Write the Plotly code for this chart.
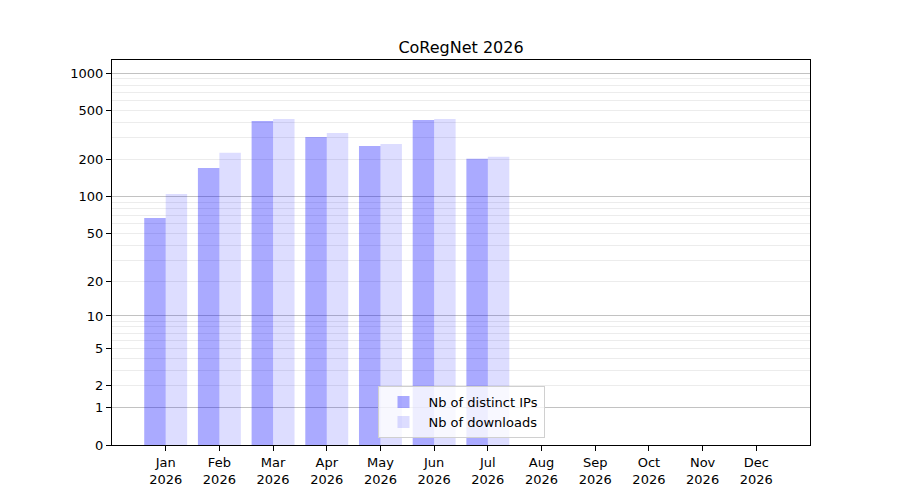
import numpy as np
import plotly.graph_objects as go

months = ["Jan", "Feb", "Mar", "Apr", "May", "Jun", "Jul", "Aug", "Sep", "Oct", "Nov", "Dec"]
year = "2026"
distinct_ips = [67, 171, 411, 305, 258, 419, 203]
downloads = [105, 227, 427, 329, 268, 427, 211]

y_labels = [0, 1, 2, 5, 10, 20, 50, 100, 200, 500, 1000]
major_grid = [1, 10, 100, 1000]
minor_grid = [m * d for d in (1, 10, 100) for m in range(2, 10)]

# axis is log10(1 + n), so everything gets shifted by one
x_lab = [f"{m}<br>{year}" for m in months]
x_pos = list(range(len(months)))
top = 10 ** 3.107

fig = go.Figure()
fig.add_trace(go.Bar(x=x_pos[:len(distinct_ips)], y=np.array(distinct_ips) + 1,
                     name="Nb of distinct IPs", marker_color="rgba(0,0,255,0.333)",
                     marker_line_width=0))
fig.add_trace(go.Bar(x=x_pos[:len(downloads)], y=np.array(downloads) + 1,
                     name="Nb of downloads", marker_color="rgba(0,0,255,0.135)",
                     marker_line_width=0))
# dummy trace so the overlay axis (dark grid) gets drawn
fig.add_trace(go.Scatter(x=[None], y=[None], yaxis="y2", showlegend=False,
                         hoverinfo="skip"))

# page body has an 8px margin, so margins are nudged up/left by 8
fig.update_layout(
    width=900, height=500,
    paper_bgcolor="white", plot_bgcolor="white",
    margin=dict(l=104, r=98, t=52, b=63),
    font=dict(family="DejaVu Sans", size=13, color="black"),
    barmode="group", bargap=0.2, bargroupgap=0,
    title=dict(text="CoRegNet 2026", x=0.5, xref="paper", xanchor="center",
               y=1, yref="paper", yanchor="bottom", pad=dict(b=7),
               font=dict(size=16, color="black")),
    xaxis=dict(range=[-1, 12], tickvals=x_pos, ticktext=x_lab,
               showgrid=False, zeroline=False, showline=True, mirror=True,
               linecolor="black", linewidth=1, ticks="outside", ticklen=5,
               tickcolor="black"),
    yaxis=dict(type="log", range=[0, np.log10(top)],
               tickvals=[v + 1 for v in y_labels], ticktext=[str(v) for v in y_labels],
               showgrid=False, zeroline=False, showline=True, mirror=True,
               linecolor="black", linewidth=1, ticks="outside", ticklen=5,
               tickcolor="black",
               minor=dict(tickvals=[v + 1 for v in minor_grid], showgrid=True,
                          gridcolor="#ececec", gridwidth=1, ticks="")),
    yaxis2=dict(type="log", range=[0, np.log10(top)], overlaying="y",
                tickvals=[v + 1 for v in major_grid], showticklabels=False,
                showgrid=True, gridcolor="#c2c2c2", gridwidth=1, ticks="",
                zeroline=False, showline=False),
    legend=dict(x=0.5, xanchor="center", y=0.018, yanchor="bottom",
                bgcolor="rgba(255,255,255,0.8)", bordercolor="#d0d0d0", borderwidth=1,
                font=dict(size=13), itemwidth=40),
    showlegend=True,
)

fig.write_html("out.html")
